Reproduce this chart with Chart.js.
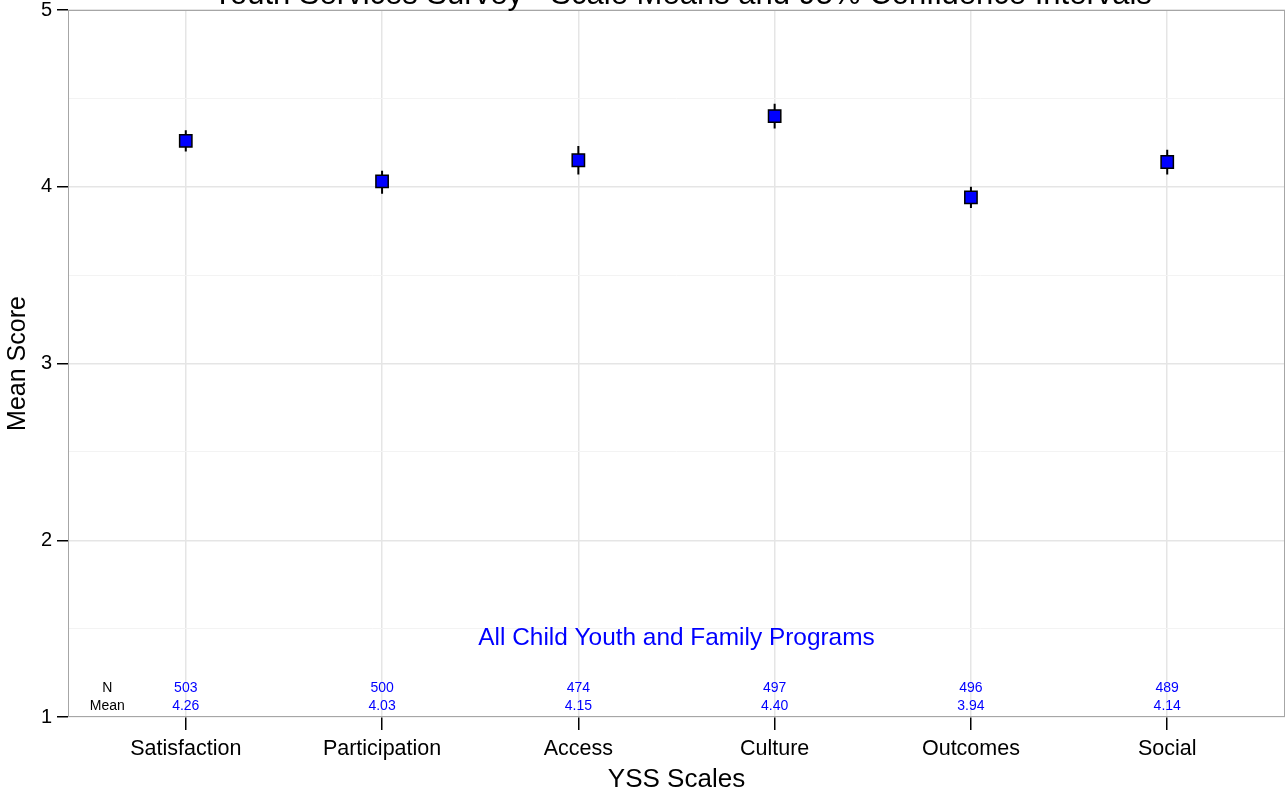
<!DOCTYPE html>
<html>
<head>
<meta charset="utf-8">
<script src="https://cdn.jsdelivr.net/npm/chart.js@4/dist/chart.umd.min.js"></script>
<style>
html, body { margin: 0; padding: 0; background: #fff; }
canvas { display: block; }
</style>
</head>
<body>
<canvas id="chart" width="1287" height="797"></canvas>
<script>
const categories = ['Satisfaction', 'Participation', 'Access', 'Culture', 'Outcomes', 'Social']
const means = [4.26, 4.03, 4.15, 4.40, 3.94, 4.14]
const ciLow = [4.20, 3.96, 4.07, 4.33, 3.88, 4.07]
const ciHigh = [4.32, 4.09, 4.23, 4.47, 4.00, 4.21]
const counts = [503, 500, 474, 497, 496, 489]
const yTicks = [1, 1.5, 2, 2.5, 3, 3.5, 4, 4.5, 5]
const titleText = 'Youth Services Survey - Scale Means and 95% Confidence Intervals'
const programText = 'All Child Youth and Family Programs'

const FONT = '"Liberation Sans", Arial, sans-serif'
Chart.defaults.font.family = FONT
Chart.defaults.color = '#000'

const points = means.map((m, i) => ({x: i, y: m}))
// error bars: one segment per scale, null in between breaks the line
const bars = []
categories.forEach((c, i) => {
	bars.push({x: i, y: ciLow[i]}, {x: i, y: ciHigh[i]}, {x: i, y: null})
})

const isMajor = v => Math.abs(v - Math.round(v)) < 1e-6

const extras = {
	id: 'extras',
	afterDatasetsDraw(chart) {
		const {ctx, chartArea: a, scales: {x, y}} = chart
		ctx.save()
		// panel border
		ctx.strokeStyle = '#a6a6a6'
		ctx.lineWidth = 1
		ctx.strokeRect(a.left + 0.5, a.top + 0.5, a.right - a.left - 1, a.bottom - a.top - 1)

		// title, clipped off the top like in the original
		ctx.fillStyle = '#000'
		ctx.textAlign = 'center'
		ctx.textBaseline = 'alphabetic'
		ctx.font = '31px ' + FONT
		ctx.fillText(titleText, 682, 3.5)

		ctx.textBaseline = 'middle'
		ctx.fillStyle = '#0000ff'
		ctx.font = '24.4px ' + FONT
		ctx.fillText(programText, x.getPixelForValue(2.5), y.getPixelForValue(1.447))

		ctx.font = '14px ' + FONT
		const nRow = y.getPixelForValue(1.166)
		const meanRow = y.getPixelForValue(1.062)
		categories.forEach((c, i) => {
			const px = x.getPixelForValue(i)
			ctx.fillText(String(counts[i]), px, nRow)
			ctx.fillText(means[i].toFixed(2), px, meanRow)
		})
		ctx.fillStyle = '#000'
		ctx.fillText('N', x.getPixelForValue(-0.4), nRow)
		ctx.fillText('Mean', x.getPixelForValue(-0.4), meanRow)
		ctx.restore()
	}
}

new Chart(document.getElementById('chart'), {
	type: 'scatter',
	data: {
		datasets: [
			{
				data: points,
				pointStyle: 'rect',
				pointRadius: 8.7,
				pointBackgroundColor: '#0000ff',
				pointBorderColor: '#000',
				pointBorderWidth: 1.5
			},
			{
				data: bars,
				showLine: true,
				spanGaps: false,
				borderColor: '#000',
				borderWidth: 2,
				pointRadius: 0
			}
		]
	},
	options: {
		responsive: false,
		animation: false,
		events: [],
		layout: {autoPadding: false, padding: {top: 10, right: 2, left: 0, bottom: 0}},
		plugins: {legend: {display: false}, tooltip: {enabled: false}},
		scales: {
			x: {
				type: 'linear',
				min: -0.6,
				max: 5.6,
				afterBuildTicks: s => { s.ticks = categories.map((c, i) => ({value: i})) },
				afterFit: s => { s.height = 80; s.paddingLeft = 0; s.paddingRight = 0 },
				border: {display: false},
				grid: {
					color: '#e5e5e5',
					lineWidth: 1.5,
					tickColor: '#000',
					tickWidth: 1.5,
					tickLength: 13
				},
				ticks: {
					font: {size: 21.5},
					padding: 6,
					maxRotation: 0,
					callback: v => categories[v]
				},
				title: {
					display: true,
					text: 'YSS Scales',
					font: {size: 26},
					padding: {top: 0, bottom: 2}
				}
			},
			y: {
				min: 1,
				max: 5,
				afterBuildTicks: s => { s.ticks = yTicks.map(v => ({value: v})) },
				afterFit: s => { s.width = 68; s.paddingTop = 0; s.paddingBottom = 0 },
				border: {display: false},
				grid: {
					color: c => isMajor(c.tick.value) ? '#e5e5e5' : '#f3f3f3',
					lineWidth: c => isMajor(c.tick.value) ? 1.5 : 1,
					tickColor: c => isMajor(c.tick.value) ? '#000' : 'rgba(0,0,0,0)',
					tickWidth: 1.5,
					tickLength: 11
				},
				ticks: {
					font: {size: 20},
					padding: 5,
					callback: v => isMajor(v) ? String(Math.round(v)) : ''
				},
				title: {
					display: true,
					text: 'Mean Score',
					font: {size: 25},
					padding: {top: 3, bottom: 0}
				}
			}
		}
	},
	plugins: [extras]
})
</script>
</body>
</html>
